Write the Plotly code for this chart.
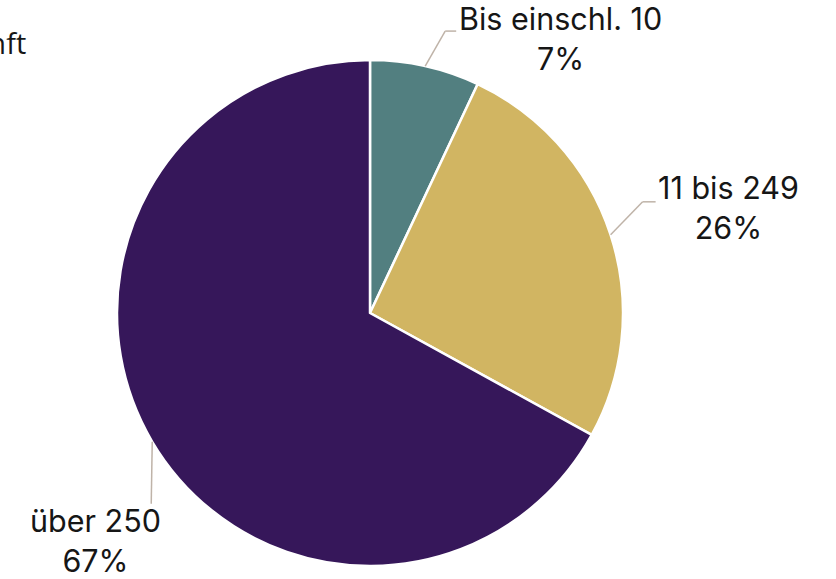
import math
import plotly.graph_objects as go

# Share of companies by number of employees
categories = ["Bis einschl. 10", "11 bis 249", "über 250"]
shares = [7, 26, 67]
colors = ["#527f80", "#d1b562", "#36175a"]
title_text = "Unternehmen nach Herkunft"

W, H = 836, 579
cx, cy, r = 370, 313, 253  # pie centre and radius in pixels

fig = go.Figure(go.Pie(
    labels=categories,
    values=shares,
    sort=False,
    direction="clockwise",
    rotation=0,
    textinfo="none",
    hoverinfo="label+percent",
    marker=dict(colors=colors, line=dict(color="white", width=2.5)),
    domain=dict(x=[(cx - r) / W, (cx + r) / W],
                y=[(H - cy - r) / H, (H - cy + r) / H]),
    showlegend=False,
))

# leader line geometry per slice: elbow offset from the rim, tail length, label offset
leader = [
    dict(elbow=(20, -35), tail=11, text=(104, 7)),
    dict(elbow=(32, -33), tail=13, text=(73, 6)),
    dict(elbow=(-1, 62), tail=0, text=(-56, 37)),
]

def px(x, y):
    return x / W, 1 - y / H

total = sum(shares)
cum = 0
shapes, annotations = [], []
for cat, val, ld in zip(categories, shares, leader):
    mid = (cum + val / 2) / total * 2 * math.pi
    cum += val
    ex, ey = cx + r * math.sin(mid), cy - r * math.cos(mid)
    bx, by = ex + ld["elbow"][0], ey + ld["elbow"][1]
    sgn = 1 if math.sin(mid) >= 0 else -1
    tx, ty = bx + sgn * ld["tail"], by
    for (x0, y0, x1, y1) in [(ex, ey, bx, by), (bx, by, tx, ty)]:
        if (x0, y0) == (x1, y1):
            continue
        a0, b0 = px(x0, y0)
        a1, b1 = px(x1, y1)
        shapes.append(dict(type="line", xref="paper", yref="paper",
                           x0=a0, y0=b0, x1=a1, y1=b1,
                           line=dict(color="#bfb3a8", width=1.5)))
    lx, ly = px(tx + ld["text"][0], ty + ld["text"][1])
    annotations.append(dict(
        x=lx, y=ly, xref="paper", yref="paper",
        text=f"{cat}<br>{val}%", showarrow=False,
        xanchor="center", yanchor="middle", align="center",
        font=dict(family="Inter", size=30.5, color="#161616"),
    ))

tx0, ty0 = px(28, 42)
annotations.append(dict(
    x=tx0, y=ty0, xref="paper", yref="paper", text=title_text,
    showarrow=False, xanchor="right", yanchor="middle",
    font=dict(family="Open Sans", size=29, color="#161616"),
))

fig.update_layout(
    width=W, height=H,
    margin=dict(l=0, r=0, t=0, b=0),
    paper_bgcolor="white", plot_bgcolor="white",
    shapes=shapes, annotations=annotations,
)

fig.write_html("out.html")
